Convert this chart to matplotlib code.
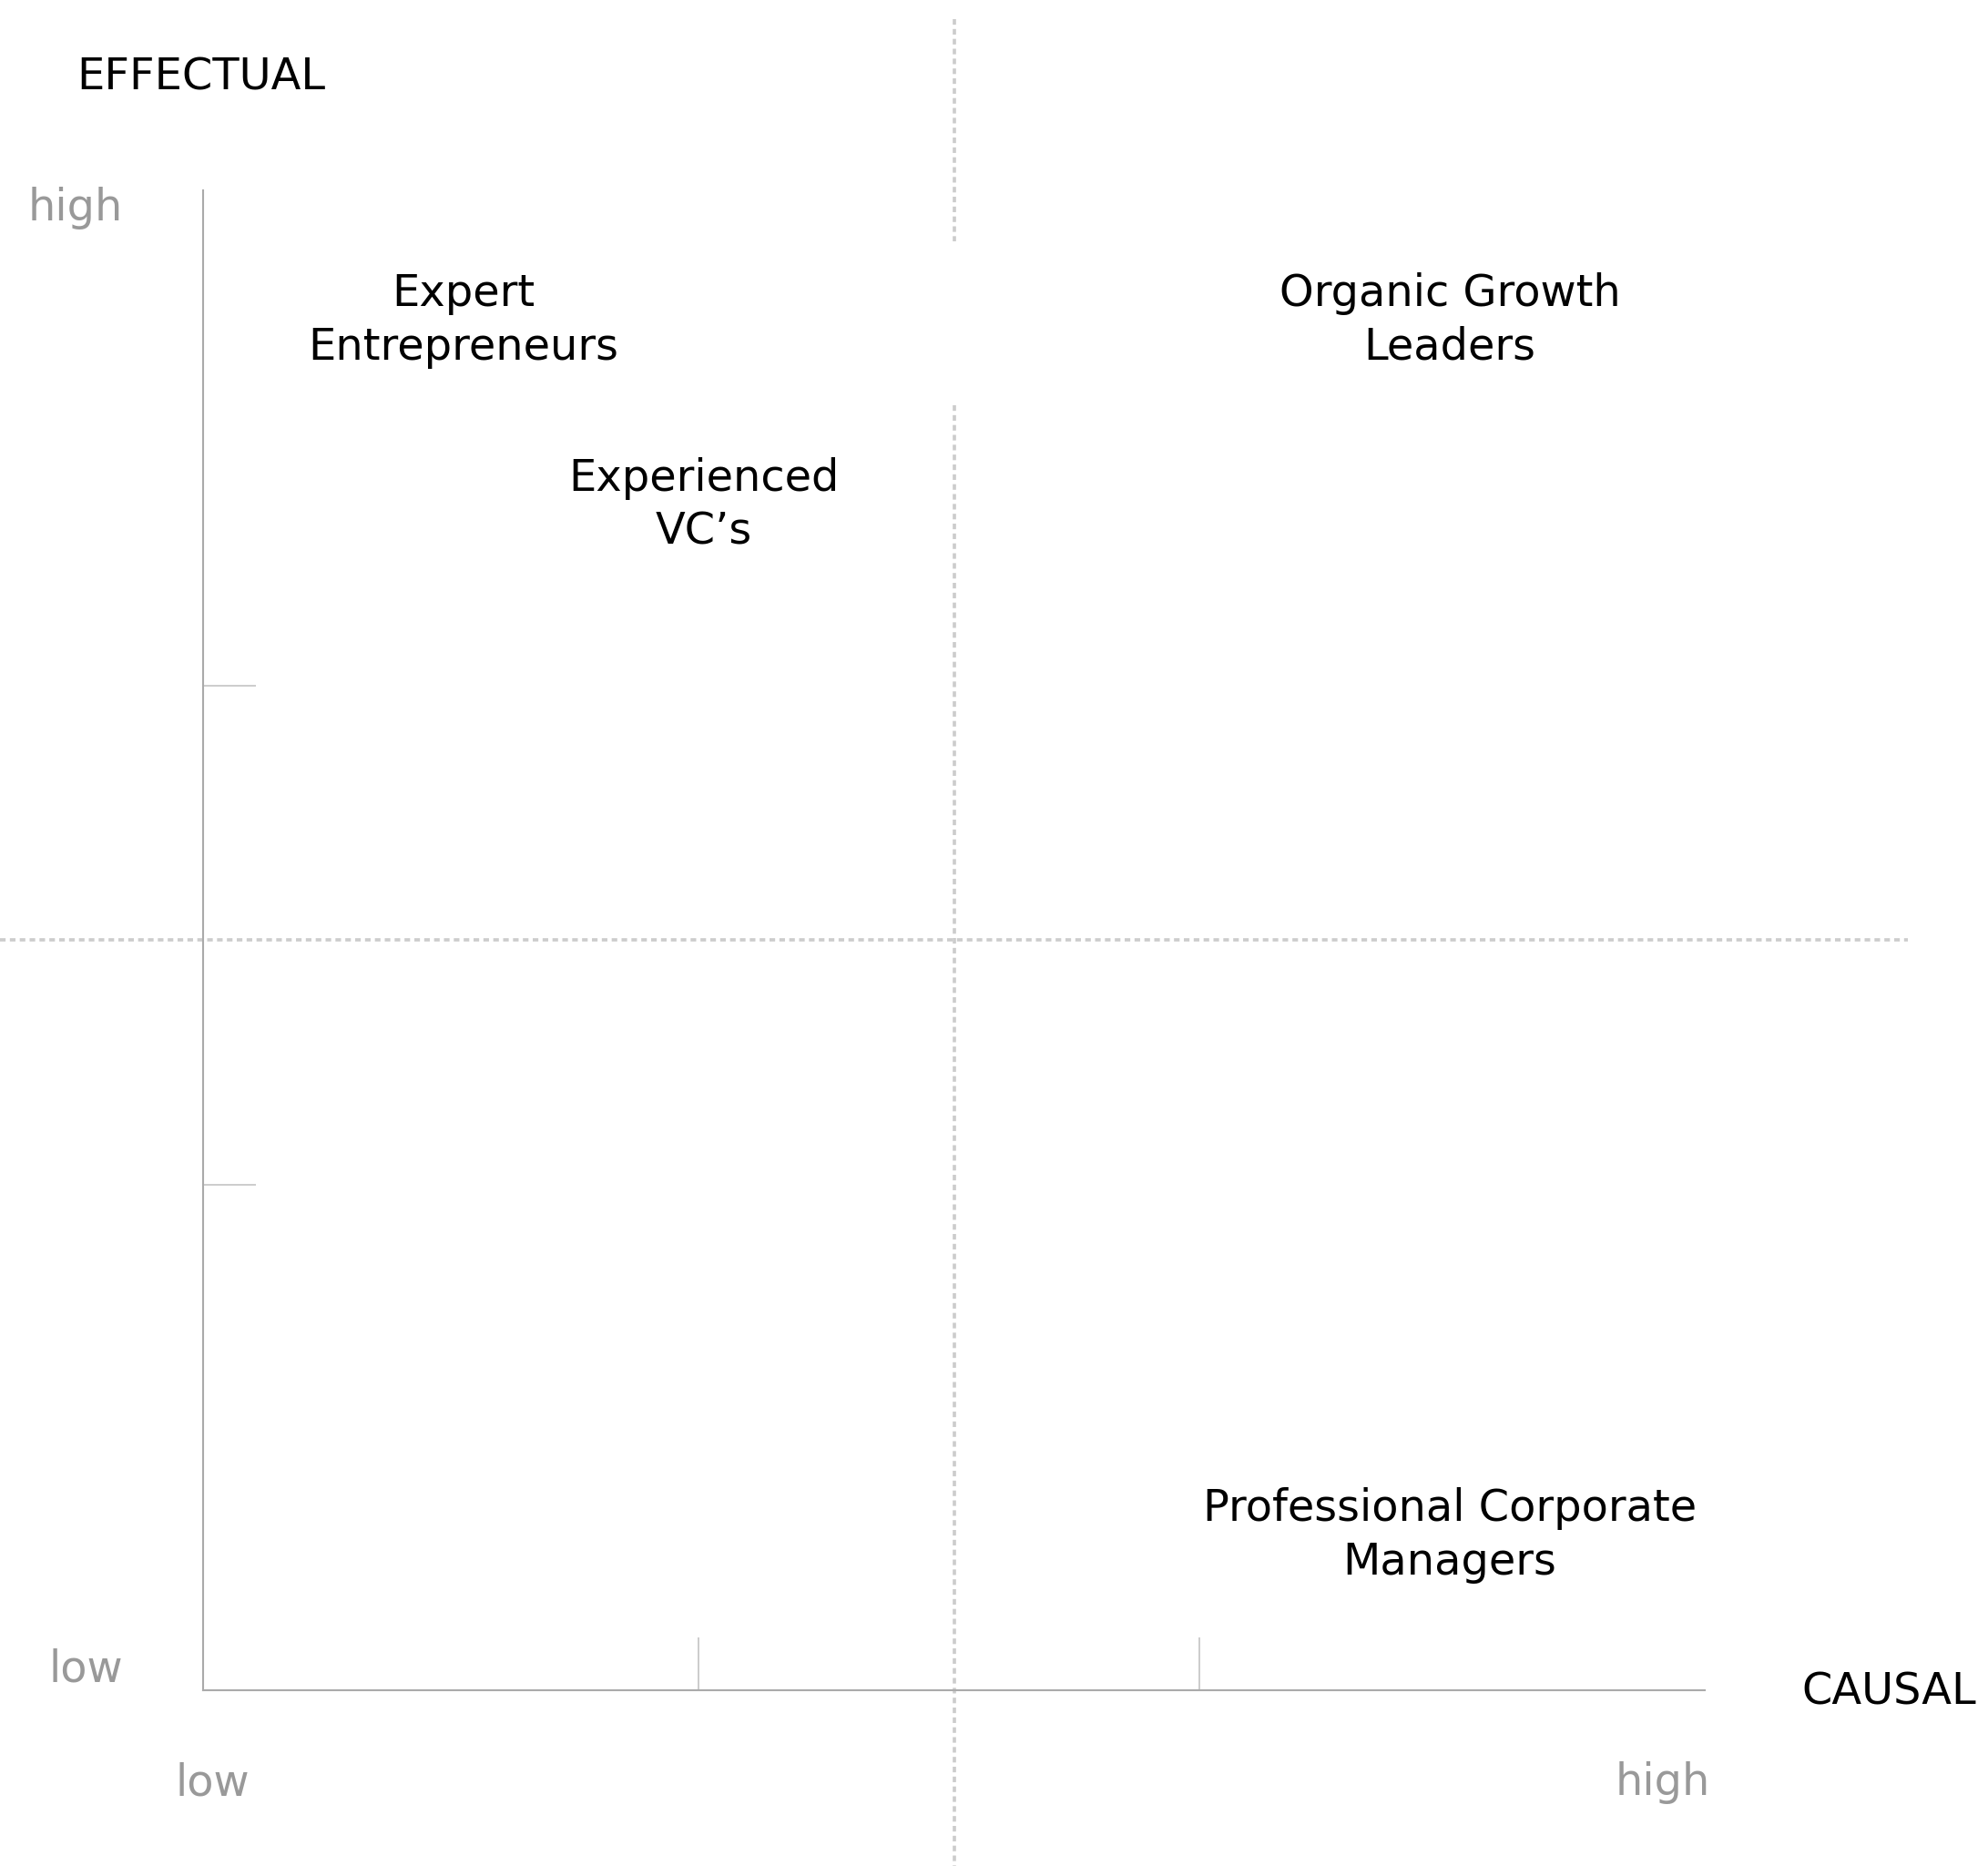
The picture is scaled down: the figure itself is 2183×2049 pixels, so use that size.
import matplotlib
matplotlib.use('Agg')
from matplotlib import pyplot as plt

# quadrant labels (data units, axes run 0..3 on both sides)
groups = ['Expert\nEntrepreneurs', 'Organic Growth\nLeaders',
          'Experienced\nVC\u2019s', 'Professional Corporate\nManagers']
causal = [0.52, 2.49, 1.00, 2.49]
effectual = [2.74, 2.74, 2.37, 0.31]

xticks = [0.99, 1.99]
yticks = [1.01, 2.01]
mid = 1.5

fig = plt.figure(figsize=(21.83, 20.49), dpi=100)
ax = fig.add_axes([0.10215, 0.0942, 0.7555, 0.8038])
ax.set_xlim(0, 3)
ax.set_ylim(0, 3)

for side in ['top', 'right']:
    ax.spines[side].set_visible(False)
for side in ['left', 'bottom']:
    ax.spines[side].set_color('#aaaaaa')
    ax.spines[side].set_linewidth(1.5)

ax.set_xticks(xticks)
ax.set_yticks(yticks)
ax.tick_params(direction='in', length=42, width=1.4, color='#cccccc',
               labelbottom=False, labelleft=False)

dot = dict(color='#cccccc', lw=2.6, linestyle=(0, (1.7, 1.3)), clip_on=False, zorder=0)
ax.plot([mid, mid], [3.342, 2.898], **dot)
ax.plot([mid, mid], [2.570, -0.352], **dot)
ax.plot([-0.406, 3.406], [mid, mid], **dot)

for name, x, y in zip(groups, causal, effectual):
    ax.text(x, y, name, ha='center', va='center', fontsize=34.5,
            color='black', linespacing=1.33)

gray = dict(fontsize=34.5, color='#999999', clip_on=False)
ax.text(-0.16, 2.965, 'high', ha='right', va='center', **gray)
ax.text(-0.16, 0.042, 'low', ha='right', va='center', **gray)
ax.text(-0.055, -0.185, 'low', ha='left', va='center', **gray)
ax.text(3.01, -0.185, 'high', ha='right', va='center', **gray)

ax.text(3.193, -0.004, 'CAUSAL', ha='left', va='center', fontsize=34.5, color='black', clip_on=False)
ax.text(-0.253, 3.225, 'EFFECTUAL', ha='left', va='center', fontsize=34.5, color='black', clip_on=False)

plt.savefig('out.png', dpi=100)
